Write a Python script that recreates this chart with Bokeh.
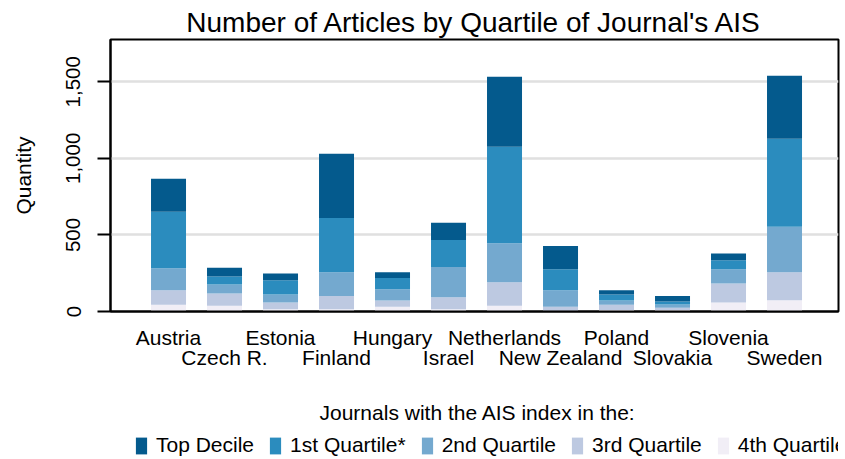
from bokeh.plotting import figure
from bokeh.layouts import column
from bokeh.models import (ColumnDataSource, FixedTicker, LinearAxis, NumeralTickFormatter,
                          Range1d, Legend, LegendItem, Label)
from bokeh.embed import file_html
from bokeh.resources import INLINE

countries = ["Austria", "Czech R.", "Estonia", "Finland", "Hungary", "Israel",
             "Netherlands", "New Zealand", "Poland", "Slovakia", "Slovenia", "Sweden"]
top_decile = [215, 57, 44, 419, 37, 113, 456, 152, 28, 37, 43, 411]
quartile_1 = [370, 52, 93, 355, 74, 176, 631, 137, 39, 19, 59, 574]
quartile_2 = [143, 59, 52, 154, 73, 198, 254, 108, 28, 22, 93, 298]
quartile_3 = [95, 80, 44, 87, 41, 78, 154, 26, 35, 15, 124, 182]
quartile_4 = [44, 37, 15, 15, 31, 15, 37, 5, 9, 9, 59, 74]
series_labels = ["Top Decile", "1st Quartile*", "2nd Quartile", "3rd Quartile", "4th Quartile"]
legend_title_text = "Journals with the AIS index in the:"
y_ticks = [0, 500, 1000, 1500]

colors = ["#045a8d", "#2b8cbe", "#74a9cf", "#bdc9e1", "#f1eef6"]
FONT = "Liberation Sans"
FS = "21px"

pos = list(range(1, len(countries) + 1))
source = ColumnDataSource(dict(x=pos, top=top_decile, q1=quartile_1, q2=quartile_2,
                               q3=quartile_3, q4=quartile_4))
stackers = ["q4", "q3", "q2", "q1", "top"]
stack_colors = colors[::-1]

p = figure(width=845, height=380, output_backend="svg", toolbar_location=None,
           x_range=Range1d(-0.036, 12.964), y_range=Range1d(0, 1776),
           min_border_left=110, min_border_right=7, min_border_top=39, min_border_bottom=69)

p.title.text = "Number of Articles by Quartile of Journal's AIS"
p.title.text_font = FONT
p.title.text_font_size = "28px"
p.title.text_font_style = "normal"
p.title.text_color = "black"
p.title.align = "center"
p.title.standoff = 4

p.vbar_stack(stackers, x="x", width=0.625, color=stack_colors, source=source,
             line_color=None)

# frame styling
p.outline_line_color = "black"
p.outline_line_width = 2
p.xgrid.grid_line_color = None
p.ygrid.ticker = FixedTicker(ticks=y_ticks[1:])
p.ygrid.grid_line_color = "#e0e0e0"
p.ygrid.grid_line_width = 2.5

# y axis
ya = p.yaxis[0]
ya.ticker = FixedTicker(ticks=y_ticks)
ya.formatter = NumeralTickFormatter(format="0,0")
ya.major_label_orientation = "parallel"
ya.major_label_text_font = FONT
ya.major_label_text_font_size = "20.5px"
ya.major_label_text_color = "black"
ya.major_label_standoff = 17
ya.major_tick_out = 13
ya.major_tick_in = 0
ya.major_tick_line_width = 2
ya.major_tick_line_color = "black"
ya.minor_tick_line_color = None
ya.axis_line_width = 2
ya.axis_line_color = "black"
ya.axis_label = "Quantity"
ya.axis_label_text_font = FONT
ya.axis_label_text_font_size = FS
ya.axis_label_text_font_style = "normal"
ya.axis_label_text_color = "black"
ya.axis_label_standoff = 29

# x axes (staggered labels)
odd = [i for i in pos if i % 2 == 1]
even = [i for i in pos if i % 2 == 0]
xa = p.xaxis[0]
xa.ticker = FixedTicker(ticks=odd)
xa.major_label_overrides = {i: countries[i - 1] for i in odd}
xa2 = LinearAxis(ticker=FixedTicker(ticks=even),
                 major_label_overrides={i: countries[i - 1] for i in even})
p.add_layout(xa2, "below")
for ax in (xa, xa2):
    ax.major_label_text_font = FONT
    ax.major_label_text_font_size = FS
    ax.major_label_text_color = "black"
    ax.major_tick_line_color = None
    ax.minor_tick_line_color = None
    ax.major_tick_out = 0
    ax.major_tick_in = 0
xa.axis_line_width = 2
xa.axis_line_color = "black"
xa.major_label_standoff = 14
xa2.axis_line_color = None
xa2.major_label_standoff = -6

# legend strip under the chart (same series, kept outside its visible range)
p2 = figure(width=845, height=79, output_backend="svg", toolbar_location=None,
            x_axis_type=None, y_axis_type=None, x_range=p.x_range,
            y_range=Range1d(50000, 60000), min_border=0)
p2.outline_line_color = None
p2.grid.grid_line_color = None
swatches = p2.vbar_stack(stackers, x="x", width=0.625, color=stack_colors, source=source,
                         line_color=None)
items = [LegendItem(label=series_labels[i], renderers=[swatches[4 - i]]) for i in range(5)]
legend = Legend(items=items, orientation="horizontal", location=(24, 2),
                border_line_color=None, background_fill_alpha=0, padding=0, margin=0,
                spacing=14, label_standoff=8, glyph_width=14, glyph_height=21,
                label_text_font=FONT, label_text_font_size=FS, label_text_color="black",
                label_height=21)
p2.add_layout(legend, "center")
p2.add_layout(Label(x=209, y=47, x_units="screen", y_units="screen", text=legend_title_text,
                    text_font=FONT, text_font_size=FS, text_color="black",
                    text_align="left", text_baseline="alphabetic"))

layout = column(p, p2, spacing=0)
open("out.html", "w").write(file_html(layout, INLINE))
